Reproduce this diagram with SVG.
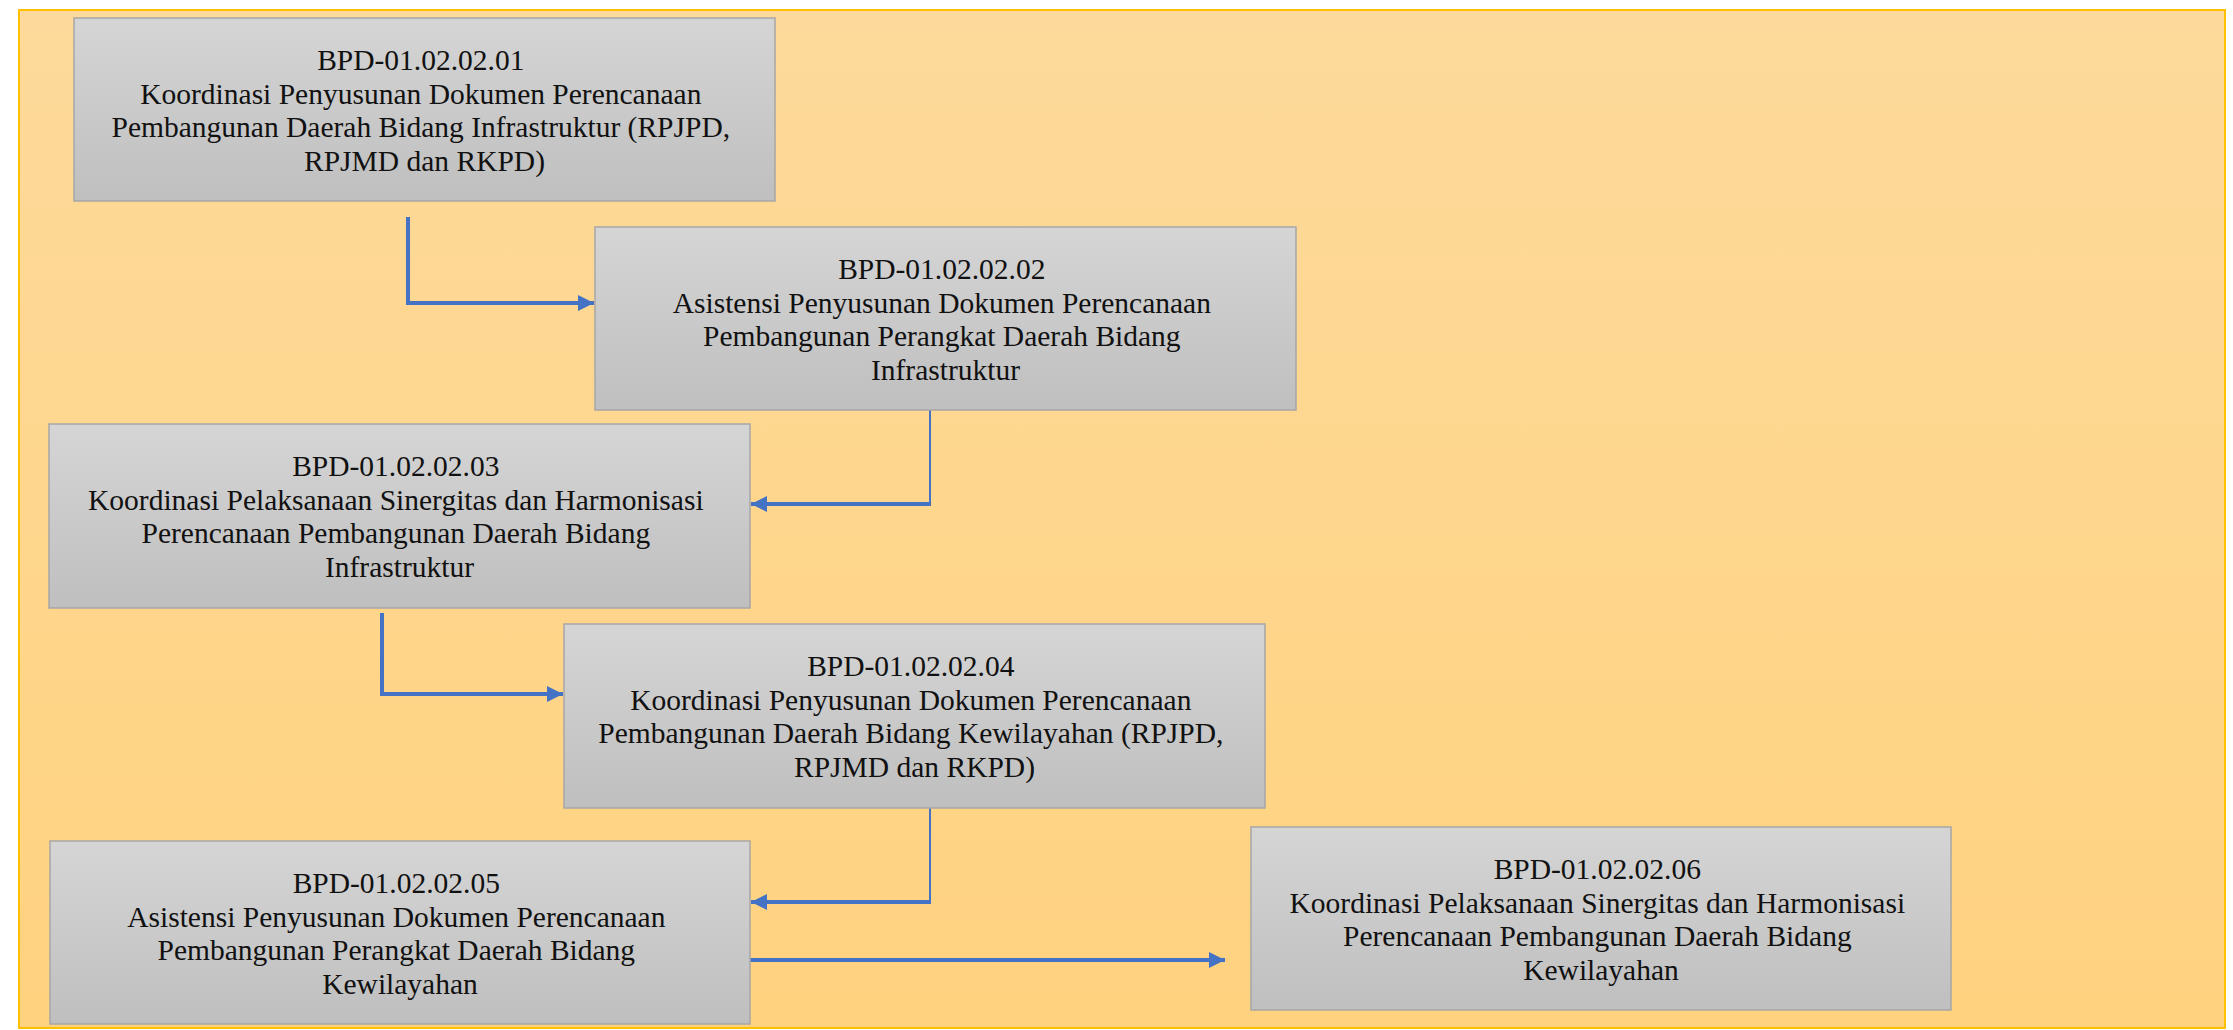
<svg xmlns="http://www.w3.org/2000/svg" width="2233" height="1030" viewBox="0 0 2233 1030">
  <style>
    .box { fill: url(#boxFill); stroke: #A6A6A6; stroke-width: 1.5; }
    .label { font-family: "Liberation Serif", "Times New Roman", serif; font-size: 29.5px; fill: #111111; text-anchor: middle; }
    .link { fill: none; stroke: #4472C4; stroke-width: 4; }
    .link-thin { fill: none; stroke: #4472C4; stroke-width: 2; }
  </style>
  <defs>
    <linearGradient id="bgFill" x1="0" y1="0" x2="0" y2="1">
      <stop offset="0" stop-color="#FDDA9B"/>
      <stop offset="1" stop-color="#FFD27F"/>
    </linearGradient>
    <linearGradient id="boxFill" x1="0" y1="0" x2="0" y2="1">
      <stop offset="0" stop-color="#D5D5D5"/>
      <stop offset="1" stop-color="#BFBFBF"/>
    </linearGradient>
    <marker id="arrow" markerUnits="userSpaceOnUse" markerWidth="18" markerHeight="18" refX="16" refY="8" orient="auto">
      <path d="M0,0 L16,8 L0,16 Z" fill="#4472C4"/>
    </marker>
  </defs>

  <!-- panel -->
  <rect x="19" y="10" width="2206" height="1018" fill="url(#bgFill)" stroke="#FFC000" stroke-width="2"/>

  <!-- connectors -->
  <g id="connectors">
    <path class="link" d="M408,217 V303 H594" marker-end="url(#arrow)"/>
    <path class="link-thin" d="M930,410 V504"/>
    <path class="link" d="M931,504 H751" marker-end="url(#arrow)"/>
    <path class="link" d="M382,613 V694 H563" marker-end="url(#arrow)"/>
    <path class="link-thin" d="M930,808 V902"/>
    <path class="link" d="M931,902 H751" marker-end="url(#arrow)"/>
    <path class="link" d="M750,960 H1225" marker-end="url(#arrow)"/>
  </g>

  <g id="node-01">
    <rect class="box" x="74" y="18" width="701" height="183"/>
    <text class="label">
      <tspan x="424.5" y="70">BPD-01.02.02.01</tspan>
      <tspan x="424.5" y="103.7">Koordinasi Penyusunan Dokumen Perencanaan</tspan>
      <tspan x="424.5" y="137.4">Pembangunan Daerah Bidang Infrastruktur (RPJPD,</tspan>
      <tspan x="424.5" y="171.1">RPJMD dan RKPD)</tspan>
    </text>
  </g>

  <g id="node-02">
    <rect class="box" x="595" y="227" width="701" height="183"/>
    <text class="label">
      <tspan x="945.5" y="279">BPD-01.02.02.02</tspan>
      <tspan x="945.5" y="312.7">Asistensi Penyusunan Dokumen Perencanaan</tspan>
      <tspan x="945.5" y="346.4">Pembangunan Perangkat Daerah Bidang</tspan>
      <tspan x="945.5" y="380.1">Infrastruktur</tspan>
    </text>
  </g>

  <g id="node-03">
    <rect class="box" x="49" y="424" width="701" height="184"/>
    <text class="label">
      <tspan x="399.5" y="476">BPD-01.02.02.03</tspan>
      <tspan x="399.5" y="509.7">Koordinasi Pelaksanaan Sinergitas dan Harmonisasi</tspan>
      <tspan x="399.5" y="543.4">Perencanaan Pembangunan Daerah Bidang</tspan>
      <tspan x="399.5" y="577.1">Infrastruktur</tspan>
    </text>
  </g>

  <g id="node-04">
    <rect class="box" x="564" y="624" width="701" height="184"/>
    <text class="label">
      <tspan x="914.5" y="676">BPD-01.02.02.04</tspan>
      <tspan x="914.5" y="709.7">Koordinasi Penyusunan Dokumen Perencanaan</tspan>
      <tspan x="914.5" y="743.4">Pembangunan Daerah Bidang Kewilayahan (RPJPD,</tspan>
      <tspan x="914.5" y="777.1">RPJMD dan RKPD)</tspan>
    </text>
  </g>

  <g id="node-05">
    <rect class="box" x="50" y="841" width="700" height="183"/>
    <text class="label">
      <tspan x="400" y="893">BPD-01.02.02.05</tspan>
      <tspan x="400" y="926.7">Asistensi Penyusunan Dokumen Perencanaan</tspan>
      <tspan x="400" y="960.4">Pembangunan Perangkat Daerah Bidang</tspan>
      <tspan x="400" y="994.1">Kewilayahan</tspan>
    </text>
  </g>

  <g id="node-06">
    <rect class="box" x="1251" y="827" width="700" height="183"/>
    <text class="label">
      <tspan x="1601" y="879">BPD-01.02.02.06</tspan>
      <tspan x="1601" y="912.7">Koordinasi Pelaksanaan Sinergitas dan Harmonisasi</tspan>
      <tspan x="1601" y="946.4">Perencanaan Pembangunan Daerah Bidang</tspan>
      <tspan x="1601" y="980.1">Kewilayahan</tspan>
    </text>
  </g>
</svg>
